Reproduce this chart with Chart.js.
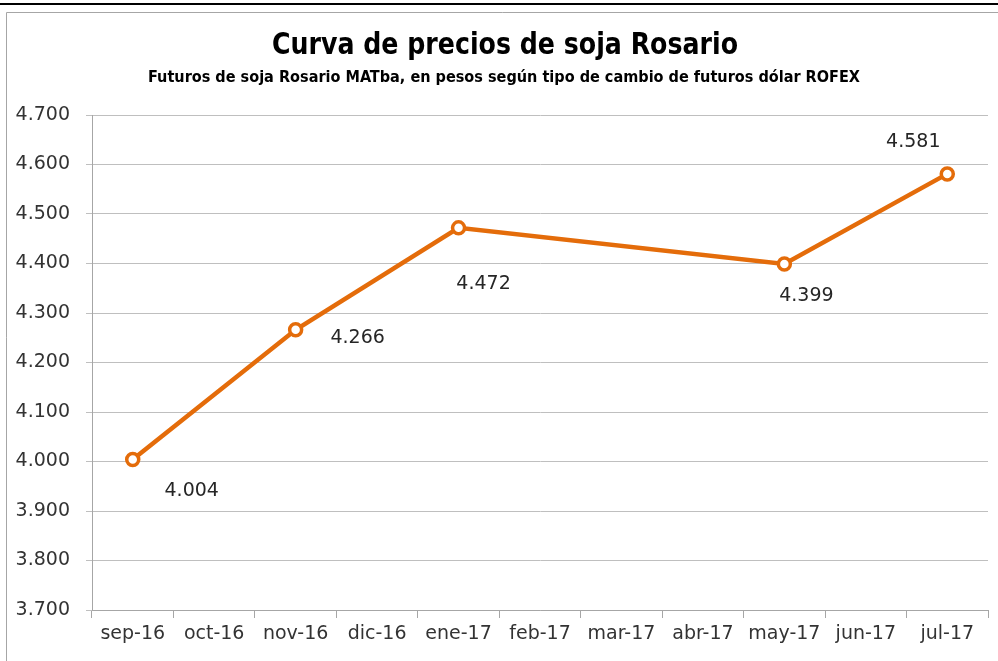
<!DOCTYPE html>
<html><head><meta charset="utf-8">
<script src="https://cdn.jsdelivr.net/npm/chart.js@4/dist/chart.umd.min.js"></script>
<style>html,body{margin:0;padding:0;background:#fff;}#wrap{width:998px;height:661px;position:relative;}</style>
</head><body><div id="wrap"><canvas id="c" width="998" height="661"></canvas></div>
<script>
const categories = ["sep-16","oct-16","nov-16","dic-16","ene-17","feb-17","mar-17","abr-17","may-17","jun-17","jul-17"];
const prices = [4004, null, 4266, null, 4472, null, null, null, 4399, null, 4581];
const yTicks = [3700, 3800, 3900, 4000, 4100, 4200, 4300, 4400, 4500, 4600, 4700];
const titleText = "Curva de precios de soja Rosario";
const subtitleText = "Futuros de soja Rosario MATba, en pesos según tipo de cambio de futuros dólar ROFEX";

function fmt(v){ const t = Math.floor(v/1000); const r = String(Math.round(v%1000)).padStart(3,'0'); return t + '.' + r; }

// label offsets (style) per point index
const labelOffsets = {0:[59,32],2:[62,8],4:[25,56],8:[22,32],10:[-34,-32]};

function drawFitted(ctx, text, cx, cy, font, targetW){
  ctx.font = font;
  const w = ctx.measureText(text).width;
  const s = targetW / w;
  ctx.save();
  ctx.translate(cx, cy);
  ctx.scale(s, 1);
  ctx.fillText(text, 0, 0);
  ctx.restore();
}

const framePlugin = {
  id:'frame',
  beforeDraw(chart){
    const ctx = chart.ctx;
    ctx.save();
    ctx.fillStyle = '#fff'; ctx.fillRect(0,0,998,661);
    ctx.strokeStyle = '#000'; ctx.lineWidth = 2;
    ctx.beginPath(); ctx.moveTo(0,4); ctx.lineTo(998,4); ctx.stroke();
    ctx.strokeStyle = '#A6A6A6'; ctx.lineWidth = 1;
    ctx.beginPath(); ctx.moveTo(6.5,670); ctx.lineTo(6.5,12.5); ctx.lineTo(998,12.5); ctx.stroke();
    ctx.fillStyle = '#000'; ctx.textAlign = 'center'; ctx.textBaseline = 'middle';
    drawFitted(ctx, titleText, 505, 46, 'bold 30px "Liberation Sans Narrow", "DejaVu Sans Condensed", sans-serif', 466);
    drawFitted(ctx, subtitleText, 504, 78, 'bold 16px "Liberation Sans Narrow", "DejaVu Sans Condensed", sans-serif', 712);
    ctx.restore();
  },
  afterDatasetsDraw(chart){
    const ctx = chart.ctx;
    const meta = chart.getDatasetMeta(0);
    ctx.save();
    ctx.fillStyle = '#262626';
    ctx.font = '19px "DejaVu Sans", sans-serif';
    ctx.textAlign = 'center'; ctx.textBaseline = 'middle';
    prices.forEach((v,i)=>{
      if(v==null) return;
      const p = meta.data[i];
      const o = labelOffsets[i] || [0,-20];
      ctx.fillText(fmt(v), p.x + o[0], p.y + o[1]);
    });
    ctx.restore();
  }
};

new Chart(document.getElementById('c'), {
  type:'line',
  data:{ labels: categories, datasets:[{
    data: prices, spanGaps:true,
    borderColor:'#E46C0A', borderWidth:4.5, tension:0,
    pointRadius:6, pointHoverRadius:6, pointBorderWidth:3.5,
    pointBackgroundColor:'#fff', pointBorderColor:'#E46C0A'
  }]},
  options:{
    responsive:false, animation:false, devicePixelRatio:1,
    layout:{ padding:{ top:115, right:10, left:0, bottom:0 } },
    plugins:{ legend:{display:false}, tooltip:{enabled:false}, title:{display:false} },
    scales:{
      x:{
        offset:true,
        grid:{ offset:true, drawOnChartArea:false, drawTicks:true, tickLength:8, color:'#A6A6A6' },
        border:{ display:true, color:'#A6A6A6' },
        ticks:{ color:'#333333', font:{ family:'"DejaVu Sans", sans-serif', size:19 }, padding:5, maxRotation:0, autoSkip:false },
        afterFit(s){ s.height = 51; }
      },
      y:{
        min:3700, max:4700,
        afterBuildTicks(s){ s.ticks = yTicks.map(v=>({value:v})); },
        grid:{ color:'#BFBFBF', tickLength:6, drawTicks:true },
        border:{ display:true, color:'#A6A6A6' },
        ticks:{ color:'#333333', font:{ family:'"DejaVu Sans", sans-serif', size:19 }, padding:16, callback:(v)=>fmt(v) },
        afterFit(s){ s.width = 92; }
      }
    }
  },
  plugins:[framePlugin]
});
</script></body></html>
